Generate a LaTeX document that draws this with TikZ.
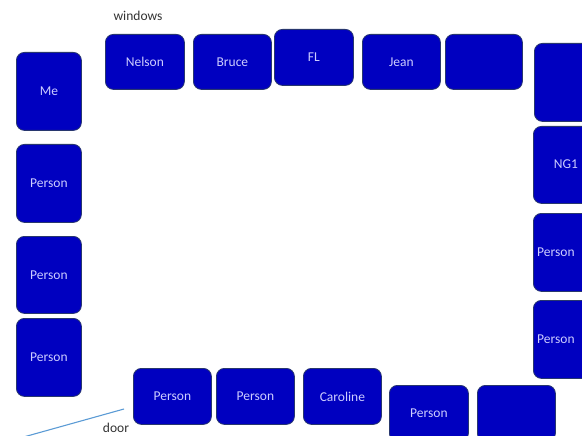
\documentclass[tikz,border=0pt]{standalone}
\usepackage{fontspec}
\setmainfont{Carlito}
\begin{document}
\begin{tikzpicture}[x=1pt,y=-1pt,
  seat/.style={draw=seatedge, line width=0.8pt, fill=seatblue, rounded corners=8pt,
    text=seattext, font=\fontsize{13.5}{15}\selectfont, inner sep=0pt, anchor=north west},
  note/.style={text=black!80, font=\fontsize{13.5}{15}\selectfont, inner sep=0pt},
  doorline/.style={draw=doorblue, line width=1.1pt}]
\definecolor{seatblue}{RGB}{0,0,192}
\definecolor{seatedge}{RGB}{40,55,110}
\definecolor{seattext}{RGB}{205,205,255}
\definecolor{doorblue}{RGB}{91,155,213}
\useasboundingbox (0,0) rectangle (582,436);

% left wall
\node[seat, minimum width=65pt, minimum height=78pt] (me) at (16,52) {Me};
\node[seat, minimum width=65pt, minimum height=78pt] (l1) at (16,144) {Person};
\node[seat, minimum width=65pt, minimum height=77pt] (l2) at (16,236) {Person};
\node[seat, minimum width=65pt, minimum height=78pt] (l3) at (16,318) {Person};

% window row
\node[seat, minimum width=79pt, minimum height=55pt] (nelson) at (105,34) {Nelson};
\node[seat, minimum width=78pt, minimum height=55pt] (bruce) at (193,34) {Bruce};
\node[seat, minimum width=79pt, minimum height=56pt] (fl) at (274,29) {FL};
\node[seat, minimum width=78pt, minimum height=55pt] (jean) at (362,34) {Jean};
\node[seat, minimum width=77pt, minimum height=55pt] (t5) at (445,34) {};

% right wall
\node[seat, minimum width=78pt, minimum height=78pt] (r0) at (534,43) {};
\node[seat, minimum width=78pt, minimum height=77pt] (ng1) at (533,126) {};
\node[text=seattext, font=\fontsize{13.5}{15}\selectfont] (ng1t) at (566,164.5) {NG1};
\node[seat, minimum width=78pt, minimum height=78pt] (r2) at (533,213) {};
\node[text=seattext, font=\fontsize{13.5}{15}\selectfont, anchor=west, inner sep=0pt] (r2t) at ([xshift=4pt]r2.west) {Person};
\node[seat, minimum width=78pt, minimum height=78pt] (r3) at (533,300) {};
\node[text=seattext, font=\fontsize{13.5}{15}\selectfont, anchor=west, inner sep=0pt] (r3t) at ([xshift=4pt]r3.west) {Person};

% door row
\node[seat, minimum width=78pt, minimum height=56pt] (b1) at (133,368) {Person};
\node[seat, minimum width=78pt, minimum height=56pt] (b2) at (216,368) {Person};
\node[seat, minimum width=78pt, minimum height=56pt] (caroline) at (303,368) {Caroline};
\node[seat, minimum width=79pt, minimum height=56pt] (b4) at (389,385) {Person};
\node[seat, minimum width=78pt, minimum height=56pt] (b5) at (477,385) {};

% labels and door
\node[note] (windows) at (138,16) {windows};
\node[note] (door) at (116,428) {door};
\coordinate (doorhinge) at (124,409);
\coordinate (doorend) at (20,438);
\draw[doorline] (doorhinge) -- (doorend);
\end{tikzpicture}
\end{document}
